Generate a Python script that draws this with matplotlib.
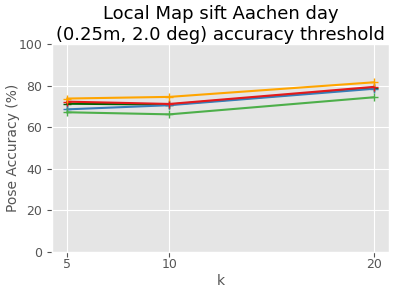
import matplotlib
matplotlib.use("Agg")
import matplotlib.pyplot as plt

plt.style.use("ggplot")

k = [5, 10, 20]
s_darkgreen = [71.3, 70.9, 78.9]
s_blue = [68.6, 70.6, 78.5]
s_red = [72.3, 71.2, 79.4]
s_green = [67.2, 66.2, 74.4]
s_orange = [73.8, 74.6, 81.6]

fig = plt.figure(figsize=(4, 2.88), dpi=100)
ax = fig.add_subplot(111)
ax.plot(k, s_darkgreen, color="darkgreen", marker="+")
ax.plot(k, s_blue, color="#377eb8", marker="+")
ax.plot(k, s_red, color="#e41a1c", marker="+")
ax.plot(k, s_green, color="#4daf4a", marker="+")
ax.plot(k, s_orange, color="orange", marker="+")
ax.set_ylim(0, 100)
ax.set_xticks(k)
ax.tick_params(labelsize=9)
ax.tick_params(axis="x", pad=1)
ax.set_xlabel("k", fontsize=10, labelpad=2)
ax.set_ylabel("Pose Accuracy (%)", fontsize=10, labelpad=-1)
ax.set_title("Local Map sift Aachen day\n(0.25m, 2.0 deg) accuracy threshold", fontsize=13, pad=3)
fig.subplots_adjust(left=0.13, right=0.9725, top=0.847, bottom=0.125)
fig.savefig("out.png", dpi=100)
